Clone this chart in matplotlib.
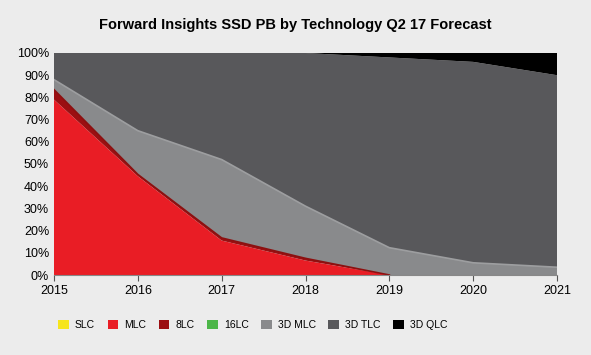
import numpy as np
import matplotlib.pyplot as plt

years = [2015, 2016, 2017, 2018, 2019, 2020, 2021]
labels = ['SLC', 'MLC', '8LC', '16LC', '3D MLC', '3D TLC', '3D QLC']
slc = [0, 0, 0, 0, 0, 0, 0]
mlc = [79, 44.5, 15.5, 6.5, 0, 0, 0]
tlc = [4.5, 0.8, 1.2, 1.0, 0, 0, 0]
lc16 = [0, 0, 0, 0, 0, 0, 0]
mlc3d = [4.5, 19.7, 35.3, 23.5, 12.3, 5.5, 3.5]
tlc3d = [12, 35, 48, 69, 85.7, 90.5, 86.5]
qlc3d = [0, 0, 0, 0, 2, 4, 10]
colors = ['#f6e51c', '#e91d25', '#9b0f12', '#4cb648', '#898a8c', '#58585b', '#000000']

plt.rcParams['font.family'] = ['Liberation Sans', 'DejaVu Sans']

fig = plt.figure(figsize=(5.91, 3.55), dpi=100)
fig.patch.set_facecolor('#ececec')
ax = fig.add_axes([54/591, 80/355, 503/591, 222/355])

series = [slc, mlc, tlc, lc16, mlc3d, tlc3d, qlc3d]
ax.stackplot(years, *series, colors=colors, labels=labels)
cum = np.cumsum(np.array(series), axis=0)
ax.plot(years[:5], cum[2][:5], color='#8c1010', lw=1.2)
ax.plot(years, cum[4], color='#9d9ea0', lw=1.2)

ax.set_xlim(2015, 2021)
ax.set_ylim(0, 100)
ax.set_xticks(years)
ax.set_yticks(range(0, 101, 10))
ax.set_yticklabels([f'{v}%' for v in range(0, 101, 10)])
ax.tick_params(axis='both', labelsize=9, length=4, color='#555555')
ax.tick_params(axis='y', length=0)
for s in ['top', 'right', 'left']:
    ax.spines[s].set_visible(False)
ax.spines['bottom'].set_color('#888888')

fig.suptitle('Forward Insights SSD PB by Technology Q2 17 Forecast',
             fontsize=10.5, fontweight='bold', y=0.95)

ax.legend(loc='upper left', bbox_to_anchor=(-0.01, -0.16), ncol=7,
          frameon=False, fontsize=7.5, handlelength=1.0, handleheight=1.0,
          columnspacing=1.2, handletextpad=0.6)

fig.savefig('out.png', dpi=100, facecolor=fig.get_facecolor())
